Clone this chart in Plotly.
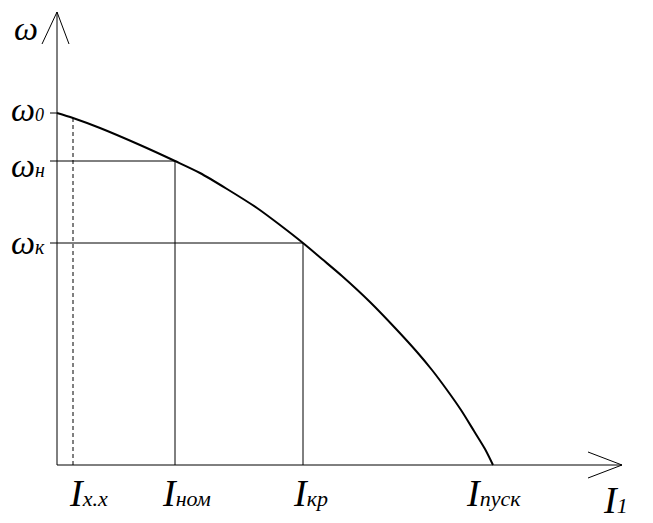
import plotly.graph_objects as go

# Characteristic curve omega(I1) (I measured from origin, omega measured up from the I axis)
I_curve = [0, 16, 43, 83, 118, 143, 170, 200, 223, 246, 265, 285, 313, 340, 360, 375, 390, 404, 417, 428, 436]
w_curve = [352, 347, 337, 320, 304, 292, 276, 257, 240, 222, 206, 189, 163, 135, 113, 95, 75, 55, 34, 16, 0]

# Marked currents
I_xx, I_nom, I_kr, I_pusk = 16, 118, 246, 436
# Marked speeds
w0, w_n, w_k = 352, 304, 222

I_labels = ["х.х", "ном", "кр", "пуск"]
w_labels = ["0", "н", "к"]

BLACK = "black"
fig = go.Figure()

# curve
fig.add_trace(go.Scatter(x=I_curve, y=w_curve, mode="lines",
                         line=dict(color=BLACK, width=2, shape="spline", smoothing=0.8),
                         hoverinfo="skip"))

shapes = []
def seg(x0, y0, x1, y1, w=1, dash=None):
    ln = dict(color=BLACK, width=w)
    if dash:
        ln["dash"] = dash
    shapes.append(dict(type="line", x0=x0, y0=y0, x1=x1, y1=y1, xref="x", yref="y", line=ln, layer="above"))

# axes with arrows
seg(0, 0, 0, 453)
seg(-15, 421, 0, 453)
seg(12, 421, 0, 453)
seg(0, 0, 565, 0)
seg(531, 13, 565, 0)
seg(531, -13, 565, 0)

# ticks / drop lines
tick = 7
seg(-tick, w0, 0, w0)
seg(-tick, w_n, I_nom, w_n)
seg(-tick, w_k, I_kr, w_k)
seg(I_nom, 0, I_nom, w_n)
seg(I_kr, 0, I_kr, w_k)
seg(I_xx, 0, I_xx, w_curve[1], dash="4px,3px")

annotations = []
FONT = dict(family="Liberation Serif", color=BLACK, size=28, style="italic")

def lab(x, y, big, small, bigsize, smallsize):
    txt = f'<span style="font-size:{bigsize}px">{big}</span><span style="font-size:{smallsize}px">{small}</span>'
    annotations.append(dict(x=x, y=y, xref="x", yref="y", text=txt, showarrow=False,
                            xanchor="left", yanchor="middle", font=FONT))

# omega labels
lab(-45, 437, "ω", "", 34, 18)
lab(-48, w0 + 4, "ω", w_labels[0], 34, 18)
lab(-48, w_n - 4, "ω", w_labels[1], 34, 20)
lab(-48, w_k + 1, "ω", w_labels[2], 34, 20)

# current labels
ylab = -28
lab(I_xx - 6, ylab, "I", I_labels[0], 38, 22)
lab(I_nom - 15, ylab, "I", I_labels[1], 38, 22)
lab(I_kr - 12, ylab, "I", I_labels[2], 38, 22)
lab(I_pusk - 29, ylab, "I", I_labels[3], 38, 22)
lab(544, ylab - 7, "I", "1", 38, 22)

# the page adds an 8px body margin, so the figure is sized to fit the window
fig.update_layout(
    width=645, height=515,
    margin=dict(l=0, r=0, t=0, b=0),
    paper_bgcolor="white", plot_bgcolor="white",
    showlegend=False,
    shapes=shapes, annotations=annotations,
    xaxis=dict(range=[-49, 596], visible=False, fixedrange=True),
    yaxis=dict(range=[-58, 457], visible=False, fixedrange=True),
)

fig.write_html("out.html")
